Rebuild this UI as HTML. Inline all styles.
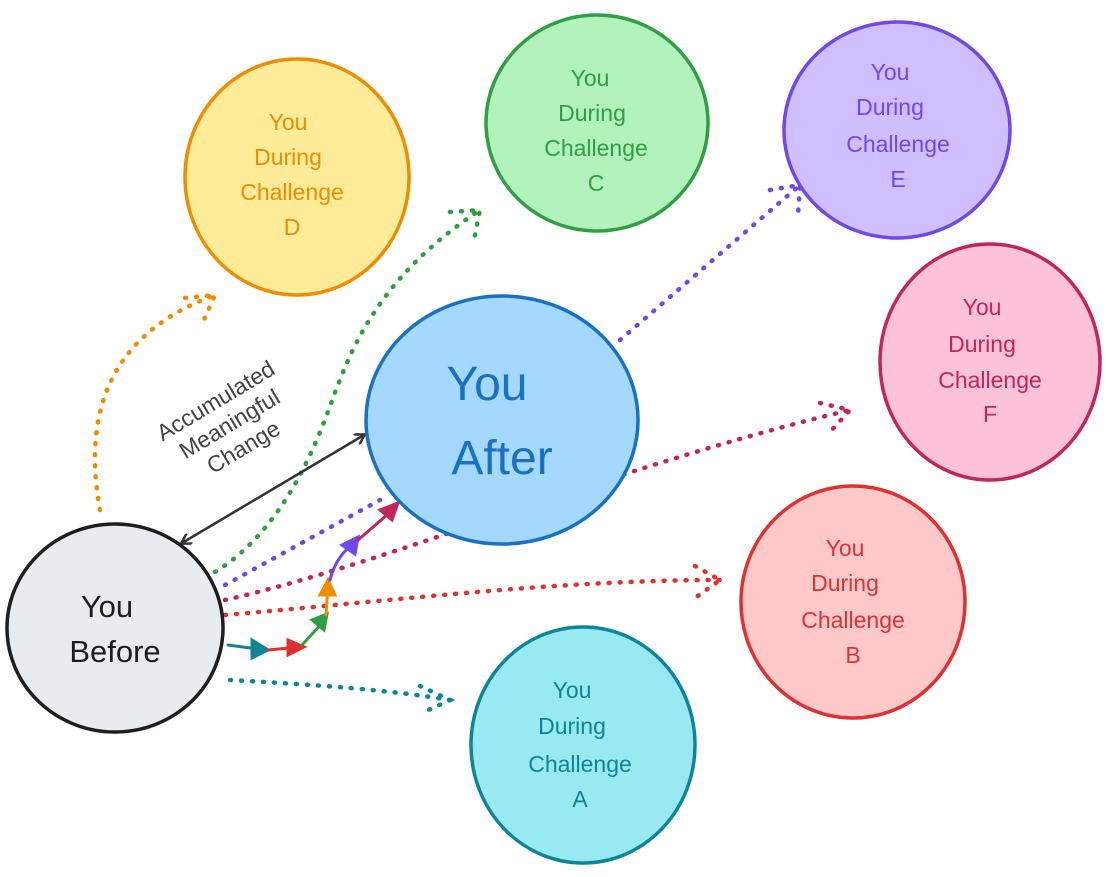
<!DOCTYPE html>
<html><head><meta charset="utf-8"><style>
html,body{margin:0;padding:0;background:#fff;}
svg text{font-family:"Liberation Sans",sans-serif;}
</style></head><body>
<svg width="1106" height="872" viewBox="0 0 1106 872" xmlns="http://www.w3.org/2000/svg">
<defs>
<marker id="ah" markerWidth="12" markerHeight="12" refX="9" refY="6" orient="auto-start-reverse" markerUnits="userSpaceOnUse"><path d="M0,0 L10,6 L0,12" fill="none" stroke="#333" stroke-width="2.5"/></marker>
</defs>
<g stroke-width="4.5" stroke-dasharray="1 10" stroke-linecap="round" fill="none">
<path d="M100,510 C80,400 120,330 215,295" stroke="#f08c00"/>
<path d="M185,298 L215,295 L203,322" stroke="#f08c00"/>
<path d="M215,572 C300,520 330,400 340,380 C370,300 420,250 480,210" stroke="#2f9e44"/>
<path d="M450,212 L480,210 L474,240" stroke="#2f9e44"/>
<path d="M620,340 L800,185" stroke="#7048e8"/>
<path d="M770,190 L800,185 L798,215" stroke="#7048e8"/>
<path d="M225,585 L380,500" stroke="#7048e8"/>
<path d="M225,600 C400,560 600,470 850,410" stroke="#c2255c"/>
<path d="M820,403 L850,410 L830,432" stroke="#c2255c"/>
<path d="M225,615 C400,600 560,580 720,580" stroke="#e03131"/>
<path d="M695,566 L720,580 L695,598" stroke="#e03131"/>
<path d="M230,680 C320,685 390,690 450,700" stroke="#0c8599"/>
<path d="M420,686 L450,700 L422,713" stroke="#0c8599"/>
</g>
<g fill="none" stroke-width="3" stroke-linecap="round">
<path d="M228,645 L265,650" stroke="#0c8599"/><path d="M252,640 L268,650 L252,658Z" fill="#0c8599" stroke="#0c8599"/>
<path d="M268,650 L300,647" stroke="#e03131"/><path d="M288,640 L304,647 L288,655Z" fill="#e03131" stroke="#e03131"/>
<path d="M302,645 L325,620" stroke="#2f9e44"/><path d="M312,620 L327,614 L324,630Z" fill="#2f9e44" stroke="#2f9e44"/>
<path d="M326,615 L328,585" stroke="#f08c00"/><path d="M320,595 L328,580 L335,595Z" fill="#f08c00" stroke="#f08c00"/>
<path d="M330,580 C335,560 345,550 355,542" stroke="#7048e8"/><path d="M342,545 L358,537 L355,554Z" fill="#7048e8" stroke="#7048e8"/>
<path d="M358,540 L395,508" stroke="#c2255c"/><path d="M380,510 L398,503 L392,520Z" fill="#c2255c" stroke="#c2255c"/>
</g>
<path d="M182,543 L364,435" stroke="#333" stroke-width="2.5" fill="none" marker-start="url(#ah)" marker-end="url(#ah)"/>
<text transform="translate(232,428) rotate(-31)" font-size="23" fill="#444" text-anchor="middle"><tspan x="0" y="-24">Accumulated</tspan><tspan x="0" y="3">Meaningful</tspan><tspan x="0" y="30">Change</tspan></text>
<g stroke-width="3.5">
<ellipse cx="297" cy="177" rx="112" ry="118" fill="#ffec99" stroke="#f08c00"/>
<ellipse cx="597" cy="123" rx="111" ry="108" fill="#b2f2bb" stroke="#2f9e44"/>
<ellipse cx="897" cy="130" rx="113" ry="108" fill="#d0bfff" stroke="#7048e8"/>
<ellipse cx="990" cy="362" rx="110" ry="118" fill="#fcc2d7" stroke="#c2255c"/>
<ellipse cx="853" cy="602" rx="112" ry="116" fill="#ffc9c9" stroke="#e03131"/>
<ellipse cx="583" cy="745" rx="112" ry="118" fill="#99e9f2" stroke="#0c8599"/>
<ellipse cx="502" cy="420" rx="136" ry="124" fill="#a5d8ff" stroke="#1971c2"/>
<ellipse cx="115" cy="628" rx="108" ry="104" fill="#e9ecef" stroke="#1e1e1e"/>
</g>
<g font-size="23" text-anchor="middle">
<text fill="#f08c00"><tspan x="288" y="130">You</tspan><tspan x="288" y="165">During</tspan><tspan x="292" y="200">Challenge</tspan><tspan x="292" y="235">D</tspan></text>
<text fill="#2f9e44"><tspan x="590" y="86">You</tspan><tspan x="592" y="121">During</tspan><tspan x="596" y="156">Challenge</tspan><tspan x="596" y="191">C</tspan></text>
<text fill="#7048e8"><tspan x="890" y="80">You</tspan><tspan x="890" y="115">During</tspan><tspan x="898" y="152">Challenge</tspan><tspan x="898" y="187">E</tspan></text>
<text fill="#c2255c"><tspan x="982" y="315">You</tspan><tspan x="982" y="352">During</tspan><tspan x="990" y="388">Challenge</tspan><tspan x="990" y="422">F</tspan></text>
<text fill="#e03131"><tspan x="845" y="556">You</tspan><tspan x="845" y="591">During</tspan><tspan x="853" y="628">Challenge</tspan><tspan x="853" y="663">B</tspan></text>
<text fill="#0c8599"><tspan x="572" y="698">You</tspan><tspan x="572" y="734">During</tspan><tspan x="580" y="772">Challenge</tspan><tspan x="580" y="807">A</tspan></text>
</g>
<text font-size="48" fill="#1971c2" text-anchor="middle"><tspan x="487" y="400">You</tspan><tspan x="502" y="474">After</tspan></text>
<text font-size="31" fill="#1e1e1e" text-anchor="middle"><tspan x="107" y="617">You</tspan><tspan x="115" y="662">Before</tspan></text>
</svg>
</body></html>
